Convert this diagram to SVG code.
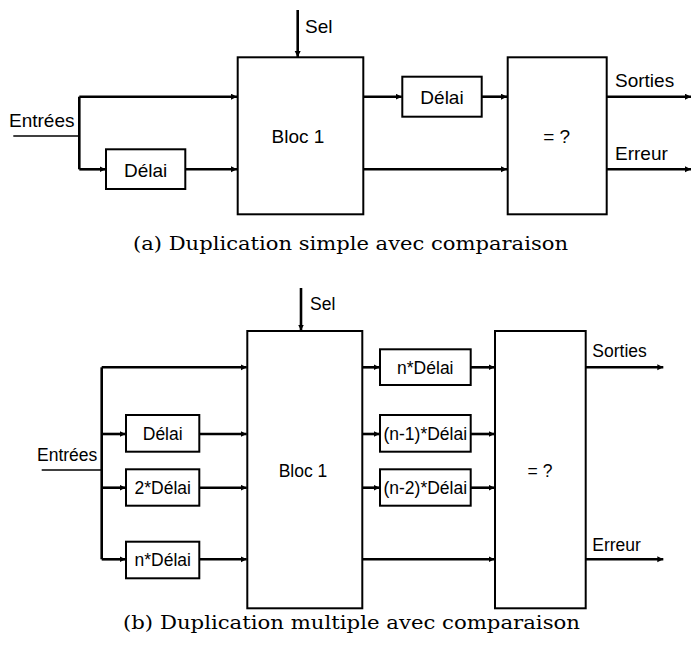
<svg xmlns="http://www.w3.org/2000/svg" width="692" height="651" viewBox="0 0 692 651">
<style>
.box{fill:#fff;stroke:#000;stroke-width:2}
.c{fill:none;stroke:#000;stroke-width:2.6}
.c1{fill:none;stroke:#000;stroke-width:1.6}
.arr{marker-end:url(#ah)}
.t{font-family:"Liberation Sans",Arial,sans-serif;font-size:19px;fill:#000}
.s{font-family:"Liberation Sans",Arial,sans-serif;font-size:17.5px;fill:#000}
.m{text-anchor:middle}
.cap{font-family:"DejaVu Serif","Liberation Serif",serif;font-size:18px;fill:#000;text-anchor:middle}
</style>
<defs>
<marker id="ah" markerUnits="userSpaceOnUse" markerWidth="8" markerHeight="8" refX="6" refY="3" orient="auto">
<path d="M0,0 L6,3 L0,6 z" fill="#000"/>
</marker>
</defs>

<g id="connectors-a">
<path class="c arr" d="M297.7,10 V57"/>
<path class="c1" d="M13.3,136 H79.3"/>
<path class="c" d="M79.3,96.7 V169.3"/>
<path class="c arr" d="M79.3,96.7 H237"/>
<path class="c arr" d="M79.3,169.3 H105.5"/>
<path class="c arr" d="M185.3,169.3 H237"/>
<path class="c arr" d="M363.3,96.7 H401.8"/>
<path class="c arr" d="M481.7,96.7 H507"/>
<path class="c arr" d="M363.3,169.3 H507"/>
<path class="c arr" d="M606.7,96.7 H691"/>
<path class="c arr" d="M606.7,169.3 H691"/>
</g>

<g id="a-bloc1"><rect class="box" x="237.7" y="57.3" width="125.6" height="157"/><text class="t m" x="298" y="143">Bloc 1</text></g>
<g id="a-cmp"><rect class="box" x="507.7" y="57.3" width="99" height="157"/><text class="t m" x="556.7" y="143">= ?</text></g>
<g id="a-delai1"><rect class="box" x="106" y="149.3" width="79.3" height="39.7"/><text class="t m" x="145.7" y="176.5">Délai</text></g>
<g id="a-delai2"><rect class="box" x="402.3" y="76.7" width="79.4" height="40"/><text class="t m" x="442" y="104">Délai</text></g>
<g id="a-labels">
<text class="t" x="305" y="33">Sel</text>
<text class="t" x="9" y="127">Entrées</text>
<text class="t" x="615" y="87">Sorties</text>
<text class="t" x="615" y="160">Erreur</text>
</g>
<text class="cap" x="350.5" y="250" textLength="435" lengthAdjust="spacingAndGlyphs">(a) Duplication simple avec comparaison</text>

<g id="connectors-b">
<path class="c arr" d="M301,288 V330.5"/>
<path class="c1" d="M41.7,470 H101.7"/>
<path class="c" d="M101.7,367.3 V559.3"/>
<path class="c arr" d="M101.7,367.3 H246.7"/>
<path class="c arr" d="M101.7,434 H125.5"/>
<path class="c arr" d="M101.7,487.7 H125.5"/>
<path class="c arr" d="M101.7,559.3 H125.5"/>
<path class="c arr" d="M199.3,434 H246.7"/>
<path class="c arr" d="M199.3,487.7 H246.7"/>
<path class="c arr" d="M199.3,559.3 H246.7"/>
<path class="c arr" d="M362.3,367.3 H379.5"/>
<path class="c arr" d="M362.3,434 H379.5"/>
<path class="c arr" d="M362.3,487.7 H379.5"/>
<path class="c arr" d="M470.7,367.3 H494.5"/>
<path class="c arr" d="M470.7,434 H494.5"/>
<path class="c arr" d="M470.7,487.7 H494.5"/>
<path class="c arr" d="M362.3,559.3 H494.5"/>
<path class="c arr" d="M585.7,367.3 H663.3"/>
<path class="c arr" d="M585.7,559.3 H663.3"/>
</g>

<g id="b-bloc1"><rect class="box" x="247.3" y="331" width="115" height="277.3"/><text class="s m" x="303" y="476.7">Bloc 1</text></g>
<g id="b-cmp"><rect class="box" x="495" y="331" width="90.7" height="277.3"/><text class="s m" x="540" y="476.7">= ?</text></g>
<g id="b-d1"><rect class="box" x="126" y="415" width="73.3" height="36.7"/><text class="s m" x="162.7" y="440">Délai</text></g>
<g id="b-d2"><rect class="box" x="126" y="469.3" width="73.3" height="36.4"/><text class="s m" x="162.7" y="494">2*Délai</text></g>
<g id="b-dn"><rect class="box" x="126" y="541.7" width="73.3" height="36.6"/><text class="s m" x="162.7" y="566">n*Délai</text></g>
<g id="b-rn"><rect class="box" x="380" y="349.3" width="90.7" height="35.7"/><text class="s m" x="425.3" y="373.5">n*Délai</text></g>
<g id="b-rn1"><rect class="box" x="380" y="415" width="90.7" height="36.7"/><text class="s m" x="425.3" y="440">(n-1)*Délai</text></g>
<g id="b-rn2"><rect class="box" x="380" y="469.3" width="90.7" height="36.4"/><text class="s m" x="425.3" y="494">(n-2)*Délai</text></g>
<g id="b-labels">
<text class="s" x="310" y="310">Sel</text>
<text class="s" x="37" y="460.7">Entrées</text>
<text class="s" x="592.3" y="357">Sorties</text>
<text class="s" x="592.3" y="550.7">Erreur</text>
</g>
<text class="cap" x="351.5" y="629" textLength="457" lengthAdjust="spacingAndGlyphs">(b) Duplication multiple avec comparaison</text>
</svg>
